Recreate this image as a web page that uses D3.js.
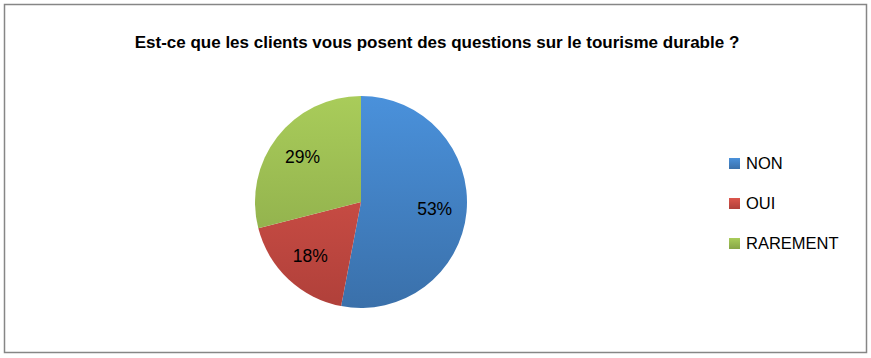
<!DOCTYPE html>
<html>
<head>
<meta charset="utf-8">
<script src="https://cdn.jsdelivr.net/npm/d3@7"></script>
<style>
  body { margin: 0; background: #fff; }
  text { font-family: "Liberation Sans", Arial, sans-serif; }
</style>
</head>
<body>
<div id="chart"></div>
<script>
var categories = ['NON', 'OUI', 'RAREMENT']
var values = [53, 18, 29]
var labels = ['53%', '18%', '29%']
var title = 'Est-ce que les clients vous posent des questions sur le tourisme durable ?'

var colorsTop = ['#4a91db', '#dc564c', '#a9cc5a']
var colorsBottom = ['#3a70aa', '#b0403a', '#87a547']

var width = 871, height = 358
var cx = 361, cy = 202, radius = 106

var svg = d3.select('#chart')
    .append('svg')
    .attr('width', width)
    .attr('height', height)

// frame
svg.append('rect')
    .attr('x', 4.5).attr('y', 4.5)
    .attr('width', 862).attr('height', 348)
    .attr('fill', '#fff')
    .attr('stroke', '#868686')
    .attr('stroke-width', 1.5)

svg.append('text')
    .attr('x', 437)
    .attr('y', 48)
    .attr('text-anchor', 'middle')
    .style('font-size', '17px')
    .style('font-weight', 'bold')
    .attr('fill', '#000')
    .text(title)

var defs = svg.append('defs')
categories.forEach(function (c, i) {
    var g = defs.append('linearGradient')
        .attr('id', 'grad' + i)
        .attr('gradientUnits', 'userSpaceOnUse')
        .attr('x1', 0).attr('y1', -radius)
        .attr('x2', 0).attr('y2', radius)
    g.append('stop').attr('offset', '0%').attr('stop-color', colorsTop[i])
    g.append('stop').attr('offset', '100%').attr('stop-color', colorsBottom[i])

    var lg = defs.append('linearGradient')
        .attr('id', 'lgrad' + i)
        .attr('x1', 0).attr('y1', 0)
        .attr('x2', 0).attr('y2', 1)
    lg.append('stop').attr('offset', '0%').attr('stop-color', colorsTop[i])
    lg.append('stop').attr('offset', '100%').attr('stop-color', colorsBottom[i])
})

var pie = d3.pie().sort(null).value(function (d) { return d })
var arcs = pie(values)

var arc = d3.arc().innerRadius(0).outerRadius(radius)
var labelArc = d3.arc().innerRadius(74).outerRadius(74)

var gPie = svg.append('g').attr('transform', 'translate(' + cx + ',' + cy + ')')

gPie.selectAll('path')
    .data(arcs)
    .enter()
    .append('path')
    .attr('d', arc)
    .attr('fill', function (d, i) { return 'url(#grad' + i + ')' })

gPie.selectAll('text')
    .data(arcs)
    .enter()
    .append('text')
    .attr('transform', function (d) { return 'translate(' + labelArc.centroid(d) + ')' })
    .attr('text-anchor', 'middle')
    .attr('dy', '0.35em')
    .style('font-size', '17.5px')
    .attr('fill', '#000')
    .text(function (d, i) { return labels[i] })

// legend
var legendY = d3.scalePoint().domain(categories).range([163, 243])

var legend = svg.append('g')
legend.selectAll('rect')
    .data(categories)
    .enter()
    .append('rect')
    .attr('x', 729)
    .attr('y', function (d) { return legendY(d) - 5 })
    .attr('width', 11)
    .attr('height', 11)
    .attr('fill', function (d, i) { return 'url(#lgrad' + i + ')' })

legend.selectAll('text')
    .data(categories)
    .enter()
    .append('text')
    .attr('x', 746)
    .attr('y', function (d) { return legendY(d) })
    .attr('dy', '0.35em')
    .style('font-size', '16.5px')
    .attr('fill', '#000')
    .text(function (d) { return d })
</script>
</body>
</html>
